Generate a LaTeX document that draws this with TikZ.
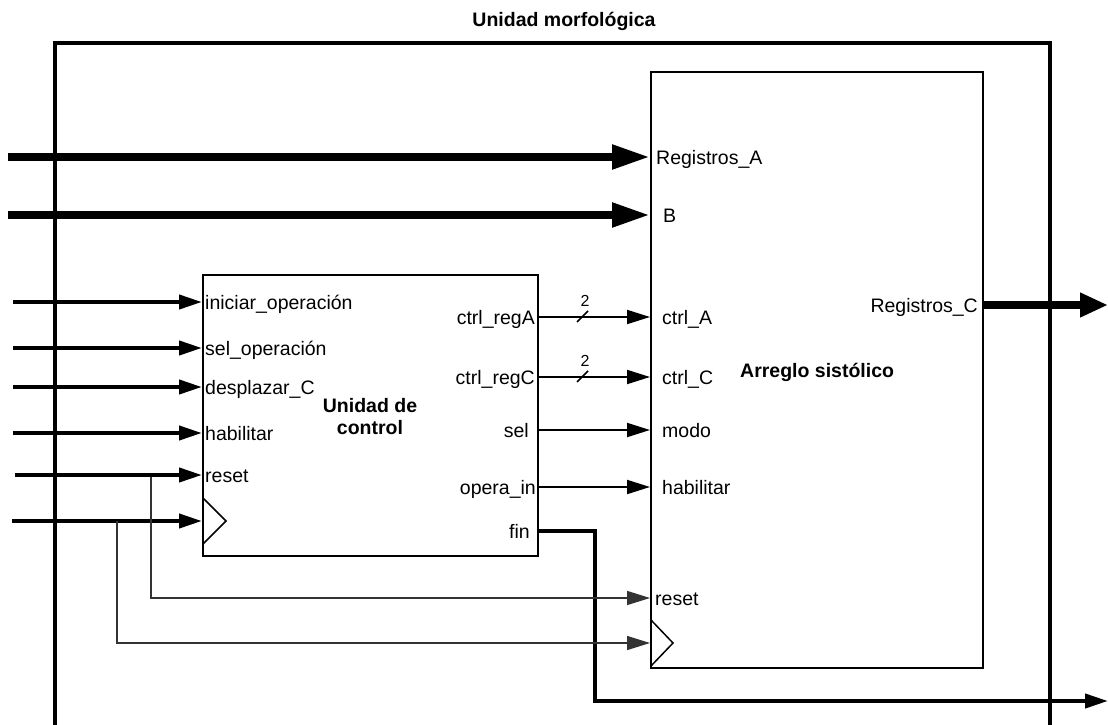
\documentclass[tikz,border=0pt]{standalone}
\usepackage{fontspec}
\setmainfont{Liberation Sans}
\usetikzlibrary{arrows.meta}
\begin{document}
\begin{tikzpicture}[x=1pt,y=-1pt,
  lbl/.style={inner sep=0pt, font=\fontsize{19.5}{22}\selectfont, anchor=base west},
  lblr/.style={lbl, anchor=base east},
  bold/.style={inner sep=0pt, font=\fontsize{19.5}{22}\selectfont\bfseries, anchor=base west},
  small/.style={inner sep=0pt, font=\fontsize{16}{18}\selectfont, anchor=base},
  box/.style={draw, line width=2pt, inner sep=0pt},
  frame/.style={line width=4pt},
  bus/.style={line width=8pt, -{Triangle[length=38pt,width=23pt]}},
  busout/.style={line width=8pt, -{Triangle[length=28pt,width=23pt]}},
  sig/.style={line width=4pt, -{Triangle[length=23pt,width=14pt]}},
  ctl/.style={line width=2pt, -{Triangle[length=23pt,width=14pt]}},
  branch/.style={line width=1.5pt, black!80, -{Triangle[length=23pt,width=14pt]}},
  clk/.style={line width=1.5pt},
  slash/.style={line width=1.5pt}
]
\useasboundingbox (0,0) rectangle (1108,725);

% outer frame and title
\coordinate (fbl) at (55,725);
\coordinate (ftl) at (55,43);
\coordinate (ftr) at (1050,43);
\coordinate (fbr) at (1050,725);
\draw[frame] (fbl) -- (ftl) -- (ftr) -- (fbr);
\node[bold, anchor=base] (title) at (564,27) {Unidad morfológica};

% blocks
\node[box, minimum width=335pt, minimum height=281pt] (uc) at (370.5,415.5) {};
\node[box, minimum width=332pt, minimum height=596pt] (as) at (817,370) {};

% clock triangles
\draw[clk] (203,498) -- (226,521) -- (203,544);
\draw[clk] (651,620) -- (673,643) -- (651,666);

% bus inputs
\coordinate (ra) at (8,157);
\coordinate (rb) at (8,215);
\draw[bus] (ra) -- (ra -| as.west);
\draw[bus] (rb) -- (rb -| as.west);

% control inputs
\coordinate (i1) at (13,302);
\coordinate (i2) at (13,348);
\coordinate (i3) at (13,387);
\coordinate (i4) at (13,433);
\coordinate (i5) at (15,475);
\coordinate (i6) at (12,521);
\foreach \c in {i1,i2,i3,i4,i5,i6} \draw[sig] (\c) -- (\c -| uc.west);

% control outputs to systolic array
\coordinate (o1) at (uc.east |- 0,317);
\coordinate (o2) at (uc.east |- 0,377);
\coordinate (o3) at (uc.east |- 0,430);
\coordinate (o4) at (uc.east |- 0,487);
\foreach \c in {o1,o2,o3,o4} \draw[ctl] (\c) -- (\c -| as.west);

% bus width marks
\draw[slash] (577,322) -- (588,311);
\node[small] (w1) at (585,306) {2};
\draw[slash] (577,382) -- (588,371);
\node[small] (w2) at (585,366) {2};

% fin output
\coordinate (fin) at (uc.east |- 0,531);
\coordinate (fc1) at (595,531);
\coordinate (fc2) at (595,701);
\coordinate (fout) at (1108,701);
\draw[sig] (fin) -- (fc1) -- (fc2) -- (fout);

% Registros_C output
\coordinate (rc) at (as.east |- 0,305);
\coordinate (rcout) at (1108,305);
\draw[busout] (rc) -- (rcout);

% reset and clock branches
\coordinate (rs0) at (151,477);
\coordinate (rs1) at (151,598);
\draw[branch] (rs0) -- (rs1) -- (rs1 -| as.west);
\coordinate (ck0) at (117,521);
\coordinate (ck1) at (117,643);
\draw[branch] (ck0) -- (ck1) -- (ck1 -| as.west);

% labels of the control unit
\node[lbl] (l1) at (205,309) {iniciar\_operación};
\node[lbl] (l2) at (205,355) {sel\_operación};
\node[lbl] (l3) at (205,394) {desplazar\_C};
\node[lbl] (l4) at (205,440) {habilitar};
\node[lbl] (l5) at (205,482) {reset};
\node[lblr] (r1) at (535,324) {ctrl\_regA};
\node[lblr] (r2) at (535,384) {ctrl\_regC};
\node[lblr] (r3) at (529,437) {sel};
\node[lblr] (r4) at (536,494) {opera\_in};
\node[lblr] (r5) at (530,538) {fin};
\node[bold, anchor=base] (uct1) at (370,412) {Unidad de};
\node[bold, anchor=base] (uct2) at (370,434) {control};

% labels of the systolic array
\node[lbl] (a1) at (656,164) {Registros\_A};
\node[lbl] (a2) at (663,222) {B};
\node[lbl] (a3) at (662,324) {ctrl\_A};
\node[lbl] (a4) at (662,384) {ctrl\_C};
\node[lbl] (a5) at (662,437) {modo};
\node[lbl] (a6) at (662,494) {habilitar};
\node[lbl] (a7) at (655,605) {reset};
\node[lblr] (a8) at (978,312) {Registros\_C};
\node[bold] (ast) at (740,377) {Arreglo sistólico};
\end{tikzpicture}
\end{document}
